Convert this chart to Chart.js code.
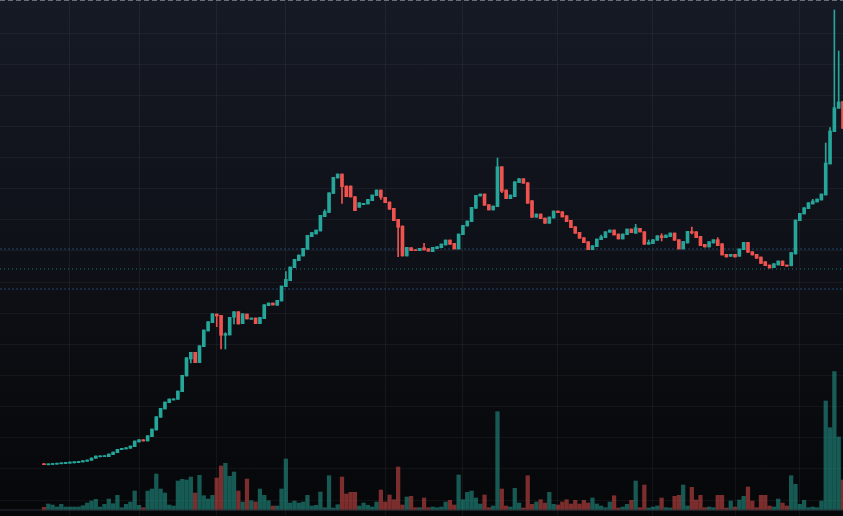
<!DOCTYPE html>
<html><head><meta charset="utf-8">
<script src="https://cdn.jsdelivr.net/npm/chart.js@4.4.1/dist/chart.umd.min.js"></script>
<style>
html,body{margin:0;padding:0;background:#0b0d12;overflow:hidden;}
#wrap{position:relative;width:843px;height:516px;background:linear-gradient(to bottom,#161a25 0%,#060709 100%);}
canvas{display:block;}
</style></head><body>
<div id="wrap"><canvas id="c" width="843" height="516"></canvas></div>
<script>
// Candle values (arbitrary price units)
const open = [52.3,51.2,51.5,51.8,52.2,52.4,52.8,53.1,53.3,54,54.7,55.7,57.7,59.2,59.4,59.3,61.3,63.3,66.3,67,67.7,69.3,74,76.3,75,79.3,86,98.7,107,113.3,116,116.7,124.3,140,157,163.7,153.3,169.3,185,193.3,202,200.7,180.7,181,198.7,204.3,192.3,202,196.7,198,192.3,197.3,210.3,213,210.7,215,229.3,235.3,248.3,255.3,260,266.7,279.3,282,285,299.3,303.5,322.5,338,342,330,330,319.3,308.7,311.3,312,315.3,320.3,326,318.7,314,307.7,296.7,290,260,268.3,266.3,265.3,268.3,267.3,264.3,267.3,268.3,271,276,272.7,267,281.3,290,294.3,307.7,320,322,311.3,306,309.3,349.3,326,317.3,319.3,333.3,337.3,333.3,315.3,298.7,302,298,292.7,298,305,304.3,300.3,295.7,289.3,283.7,278.3,274.3,266.3,269.3,276.3,278.3,283.7,286,282,277,281.3,287,282.7,287.7,284.3,271.7,272.3,275.7,280.3,278.3,279.3,283,276.3,267,273,284.5,284.3,279.7,271.7,269,273,276.3,272.3,261.7,259.7,261.7,259.7,266.3,273.7,264.3,261.7,259,254.3,251,248.3,251,255,251,250.2,262,295.3,302,307.3,312,314,316,321,352,384.3,407.7,414.3];
const high = [52.3,52.2,52.5,52.8,53.2,53.7,54,54.3,54.7,55.3,56,58,60,60.2,60.4,62,64,66.7,67.7,68.3,70,75,76.3,76.3,80.3,87,99.3,107.7,114,117,117.2,125,140.7,158.3,163.7,163.7,170.3,186,194.3,202.3,202,200.7,183.3,198.7,204.3,204.3,202.3,202,198,198,198.7,211.3,213,213,215.7,230,244.3,249,256.7,261,267.7,280.7,283.5,286,300.7,306.3,323.2,338.7,342,342,330,330,319.3,313.3,312.7,316.7,321,326,326,318.7,314,307.7,296.7,290,268.7,268.3,266.3,267.7,272.7,267.3,268.7,269.3,272,276,276,272.7,282,290.7,295,308.7,320.7,322,322,311.3,310,358,349.3,326,321,334.3,337.3,337.3,333.3,315.3,302,302,298,299,305,305,304.3,300.3,295.7,289.3,283.7,278.3,274.3,270.3,277,281,284.3,286,286,282,282,287,287,291.7,287.7,284.3,276,276.3,280.3,282.3,281,283,283,276.3,274.5,284.7,289,284.3,279.7,271.7,274.3,276.3,278.3,272.3,261.7,261.7,261.7,267,273.7,273.7,264.3,261.7,259,254.3,251,252.3,255,255,251,263.5,296,302.7,308.3,313.3,316.7,317,322,373,388.3,506,465,414.3];
const low = [51.3,51.2,51.5,51.8,52.2,52.4,52.8,53.1,53.3,54,54.7,55.7,57.7,59.2,59.4,59.3,61.3,63.3,66.3,67,67.7,69.3,74,75,75,79.3,86,98.7,107,113.3,116,116.7,124.3,140,153,153.3,153.3,169.3,185,193.3,189.3,167,167,181,192,192,192.3,197,196.7,192.3,192.3,197.3,210.3,211,210.7,215,229.3,235.3,248.3,255.3,260,266.7,279.3,282,285,299.3,303.5,322.5,338,312.7,319.3,319,305.3,308.7,311.3,312,315.3,320.3,316.7,313.3,306.7,295.3,259.3,260,260,265.3,265.3,265.3,266,264.7,264.3,267.3,268.3,271,271.7,267,267,281.3,290,294.3,307.7,320,310.7,306,306,309.3,323.3,317.3,317.3,319.3,333.3,332.7,312.7,298.7,298.7,297.3,292.7,292.7,298,303.3,299,294.3,288.3,282.7,277.7,273.3,266.3,266.3,269.3,276.3,278.3,283.7,281,277,277,281.3,283.3,282.7,284,271.7,271.7,272.3,275.7,275,278.3,279.3,275.7,267,267,273,282,278.3,270.3,269,269,273,270.3,261,259,259.7,259,259.7,266.3,263.7,261,257.7,252.5,250.3,248,248.3,251,250.3,249.8,250.2,262,295.3,302,307.3,312,314,316,321,352,384.3,407.7,387.7];
const close = [51.3,52.2,52.5,52.8,53.2,53.7,54,54.3,54.7,55.3,56,58,60,60.2,60.4,62,64,66.7,67.7,68.3,70,75,76.3,75,80.3,87,99.3,107.7,114,117,117.2,125,140.7,158.3,163.7,153.3,170.3,186,194.3,202.3,200,180.7,182.3,198.7,204.3,192,202.3,197,198,192.3,198.7,211.3,213,211,215.7,230,236.7,249,256.7,261,267.7,280.7,283.5,286,300.7,304.5,323.2,338.7,342,329.3,319.3,319,305.3,313.3,312.7,316.7,321,326,318.7,313.3,306.7,295.3,288.7,260,268.7,265.3,265.3,267.7,266,264.7,268.7,269.3,272,276,271.7,267,282,290.7,295,308.7,320.7,322,310.7,306,310,349.3,324.7,317.3,321,334.3,337.3,332.7,312.7,298.7,302,297.3,292.7,299,305,303.3,299,294.3,288.3,282.7,277.7,273.3,266.3,270.3,277,279.3,284.3,286,281,277,282,287,283.3,288.3,284,271.7,273.7,276.3,280.3,278.3,281,283,275.7,267,274.5,284.7,283,278.3,270.3,269,274.3,276.3,270.3,261,259,261.7,259,267,273.7,263.7,261,257.7,252.5,250.3,248,252.3,255,250.3,249.8,263.5,296,302.7,308.3,313.3,315,317,322,353,385,408.3,414,387.7];
const volume = [2.7,6,5,3,5.7,3,3,3,3,4.3,7,9,10.7,3,5.7,11,6.3,14.7,2.3,5.7,8,19,4.7,2.3,19,21,36,21,17,5,4,29,30.7,30,33,17,34.7,14.3,11,14.7,32,44,46.7,33.7,38,19,8,31,9.3,8,21,14.7,9.3,4,4,21,51,7,9,7,8,14.7,4,4.7,18,2.3,34.3,2,5.3,33,16,17.7,17.7,4,7,4.7,3,8,20,8,15,10.3,43,5,13,13.7,2.3,2.3,12,2.3,3,2.3,3,8,9.7,5,35,10.3,17.7,19,12,6,15,2.3,4,98.3,21,4,3,21.7,7,2,34.3,5.7,8,10.3,7,17.7,5.7,5,8,10.3,6,9.7,6,9.7,7,12,6,4,2.3,8,14.3,2,3,5.7,9.7,29,2.3,25,2,3,4,12,2.3,2,13.7,14.7,25,4,22.7,10,14.7,2.3,3,2.3,14.7,14.7,2,9,3,10,13.7,23,9,2.3,14.7,14.7,4,3,11,7,4,34.3,25.7,5.7,9.7,2.3,3,2.3,9,109,82.3,138.3,73,30];
// candle indices where the vertical grid lines fall
const gridIndex = [6,22,40,56,79,97,119,141,160,175];
// horizontal price lines
const blueLevels = [267, 227];
const tealLevel = 247;
const topLevel = 515.5;

const idx = open.map((_, i) => i);
const TEAL = '#26a69a', RED = '#ef5350';
const up = idx.map(i => close[i] >= open[i]);
const candleColors = up.map(u => u ? TEAL : RED);
const volColors = up.map(u => u ? 'rgba(38,166,154,0.52)' : 'rgba(239,83,80,0.5)');
const X_MIN = -10.185, X_MAX = 185;
const hline = (v) => [{x: X_MIN, y: v}, {x: X_MAX, y: v}];
const lineDs = (v, color, dash, order) => ({type:'line', data: hline(v), borderColor: color, borderWidth: 1, borderDash: dash, pointRadius: 0, order: order, yAxisID: 'y'});

new Chart(document.getElementById('c'), {
  type: 'bar',
  data: { datasets: [
    {label:'Volume', data: idx.map(i => ({x: i, y: volume[i]})), yAxisID: 'yv', backgroundColor: volColors, barThickness: 3.6, grouped: false, order: 6},
    {type:'line', data: [{x: X_MIN, y: 0}, {x: X_MAX, y: 0}], yAxisID: 'yv', borderColor: '#2b2e36', borderWidth: 1, pointRadius: 0, order: 5},
    lineDs(blueLevels[0], '#21466e', [2, 2], 4),
    lineDs(blueLevels[1], '#21466e', [2, 2], 4),
    lineDs(tealLevel, '#1d7a72', [1, 3], 4),
    lineDs(topLevel, '#6a6e7a', [5, 3], 4),
    {label:'Wick', data: idx.map(i => ({x: i, y: [low[i], high[i]]})), backgroundColor: candleColors, barThickness: 1, grouped: false, order: 2},
    {label:'Body', data: idx.map(i => ({x: i, y: [open[i], close[i]]})), backgroundColor: candleColors, barThickness: 3, grouped: false, order: 1}
  ]},
  options: {
    responsive: false, animation: false, devicePixelRatio: 1,
    layout: {padding: 0},
    plugins: {legend: {display: false}, tooltip: {enabled: false}},
    scales: {
      x: {type: 'linear', min: X_MIN, max: X_MAX, offset: false,
          grid: {offset: false, color: 'rgba(255,255,255,0.05)', drawTicks: false},
          border: {display: false}, ticks: {display: false},
          afterBuildTicks: s => { s.ticks = gridIndex.map(v => ({value: v})); },
          afterFit: s => { s.height = 0; }},
      y: {type: 'linear', position: 'left', min: 0, max: 516,
          grid: {color: 'rgba(255,255,255,0.045)', drawTicks: false},
          border: {display: false}, ticks: {display: false},
          afterBuildTicks: s => { const t = []; for (let k = 0; k < 16; k++) t.push({value: 16 + 31.13 * k}); s.ticks = t; },
          afterFit: s => { s.width = 0; }},
      yv: {type: 'linear', display: false, min: -6, max: 510}
    }
  }
});
</script>
</body></html>
